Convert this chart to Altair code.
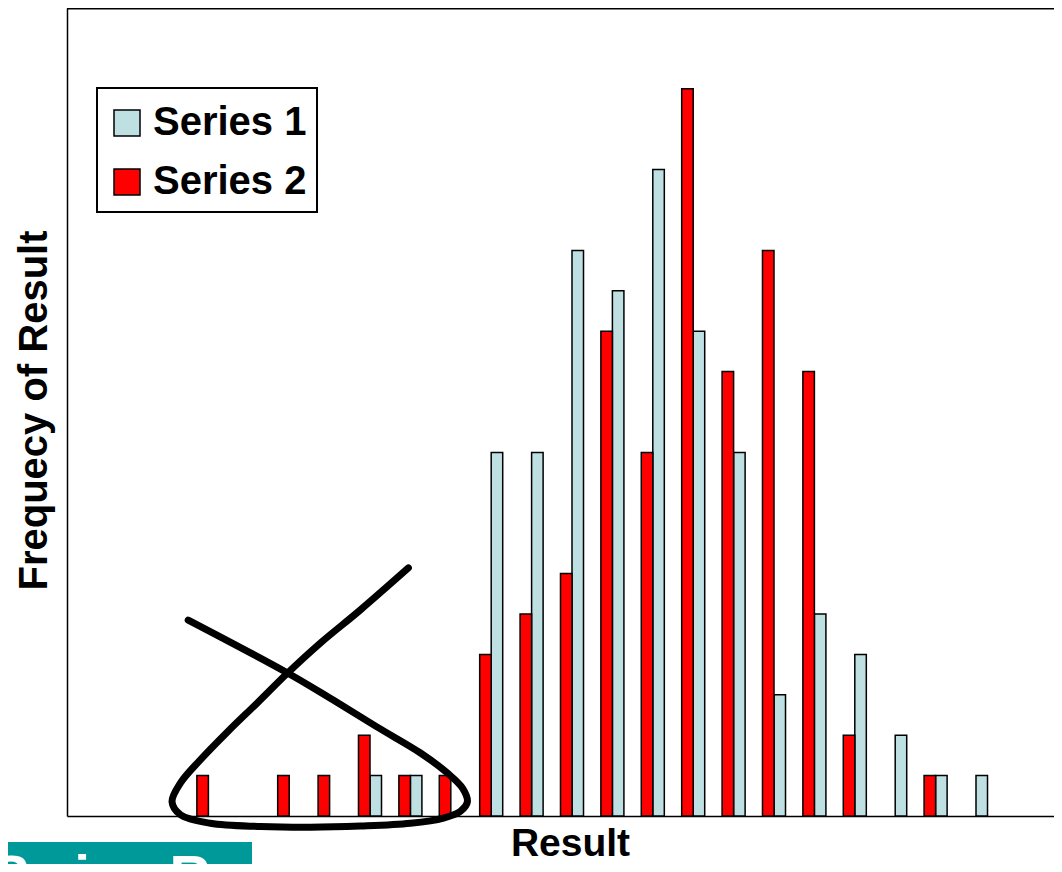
import altair as alt
import pandas as pd

# ---- data ----
results = [1, 2, 3, 4, 5, 6, 7, 8, 9, 10, 11, 12, 13, 14, 15, 16, 17, 18, 19, 20, 21, 22, 23, 24, 25]
series1 = [0, 0, 0, 0, 0, 0, 0, 1, 1, 0, 9, 9, 14, 13, 16, 12, 9, 3, 5, 4, 2, 1, 1, 0, 0]
series2 = [0, 0, 0, 1, 0, 1, 1, 2, 1, 1, 4, 5, 6, 12, 9, 18, 11, 14, 11, 2, 0, 1, 0, 0, 0]
series_names = ["Series 1", "Series 2"]
series_colors = ["#BEE0E3", "#FF0000"]

# hand-drawn annotation loop (result position, frequency units)
curve_x = [2.50, 4.96, 6.09, 7.18, 8.25, 8.92, 9.29, 9.41, 9.24, 8.82, 8.00, 6.76, 5.52,
           4.29, 3.05, 2.31, 2.10, 2.31, 2.80, 3.47, 4.21, 4.96, 5.77, 6.76, 7.95]
curve_y = [4.85, 3.54, 2.87, 2.20, 1.56, 1.06, 0.69, 0.35, 0.12, -0.05, -0.18, -0.25, -0.28,
           -0.26, -0.18, 0.03, 0.35, 0.82, 1.39, 2.08, 2.80, 3.54, 4.28, 5.10, 6.14]

FONT = "Liberation Sans"
W, H = 987, 808

rows = []
for r, a, b in zip(results, series1, series2):
    rows.append({"result": r, "series": series_names[0], "freq": a})
    rows.append({"result": r, "series": series_names[1], "freq": b})
bars_df = pd.DataFrame(rows)
curve_df = pd.DataFrame({"step": list(range(len(curve_x))), "pos": curve_x, "freq": curve_y})
one = pd.DataFrame({"a": [0]})

yscale = alt.Scale(domain=[0, 20], nice=False)

bars = alt.Chart(bars_df).transform_filter("datum.freq > 0").mark_bar(
    stroke="black", strokeWidth=1.5
).encode(
    x=alt.X("result:O",
            scale=alt.Scale(domain=results, range=[0, 1010], paddingInner=0.43, paddingOuter=0.215),
            axis=alt.Axis(labels=False, ticks=False, domain=True, domainColor="black", domainWidth=1.5,
                          title="Result", titleFont=FONT, titleFontSize=39, titleFontWeight="bold",
                          titleColor="black", titleX=503, titleY=39, titleAlign="center",
                          titleBaseline="alphabetic")),
    xOffset=alt.XOffset("series:N", sort=["Series 2", "Series 1"]),
    y=alt.Y("freq:Q", scale=yscale,
            axis=alt.Axis(labels=False, ticks=False, grid=False, domainColor="black", domainWidth=1.5,
                          title="Frequecy of Result", titleFont=FONT, titleFontSize=40,
                          titleFontWeight="bold", titleColor="black", titleAngle=270,
                          titleX=-21, titleY=402, titleAlign="center", titleBaseline="alphabetic")),
    color=alt.Color("series:N",
                    scale=alt.Scale(domain=series_names, range=series_colors),
                    legend=alt.Legend(orient="none", legendX=30, legendY=80, title=" ",
                                      titleFontSize=4, titlePadding=1,
                                      symbolType="square", symbolSize=676, symbolStrokeColor="black",
                                      symbolStrokeWidth=1.5, symbolOpacity=1,
                                      labelFont=FONT, labelFontSize=40, labelFontWeight="bold",
                                      labelColor="black", labelOffset=6, labelLimit=400,
                                      labelExpr="datum.label + ' '",
                                      padding=10, rowPadding=19, strokeColor="black",
                                      fillColor="white")),
)

curve = alt.Chart(curve_df).mark_line(
    color="black", strokeWidth=7, interpolate="catmull-rom", strokeCap="round", strokeJoin="round"
).encode(
    x=alt.X("pos:Q", scale=alt.Scale(domain=[-0.5, 24.5], range=[0, 1010], nice=False, zero=False),
            axis=None),
    y=alt.Y("freq:Q", scale=yscale),
    order="step:Q",
)

top_border = alt.Chart(one).mark_rule(color="black", strokeWidth=1.5).encode(
    x=alt.value(0), x2=alt.value(W), y=alt.value(0.75)
)

logo_rect = alt.Chart(one).mark_rect(color="#009999").encode(
    x=alt.value(-59), x2=alt.value(185), y=alt.value(834), y2=alt.value(870)
)
logo_text = alt.Chart(one).mark_text(
    text="Swiss Re", color="white", font=FONT, fontWeight="bold", fontSize=57,
    align="left", baseline="alphabetic"
).encode(x=alt.value(-75), y=alt.value(888))

chart = alt.layer(bars, curve, top_border, logo_rect, logo_text).resolve_scale(
    x="independent"
).properties(
    width=W, height=H,
    autosize=alt.AutoSizeParams(type="none"),
    padding={"left": 59, "top": 0, "right": 0, "bottom": 48},
).configure_view(stroke=None).configure_legend(strokeWidth=2)

chart.save("out.html", embed_options={"renderer": "svg", "actions": False})
